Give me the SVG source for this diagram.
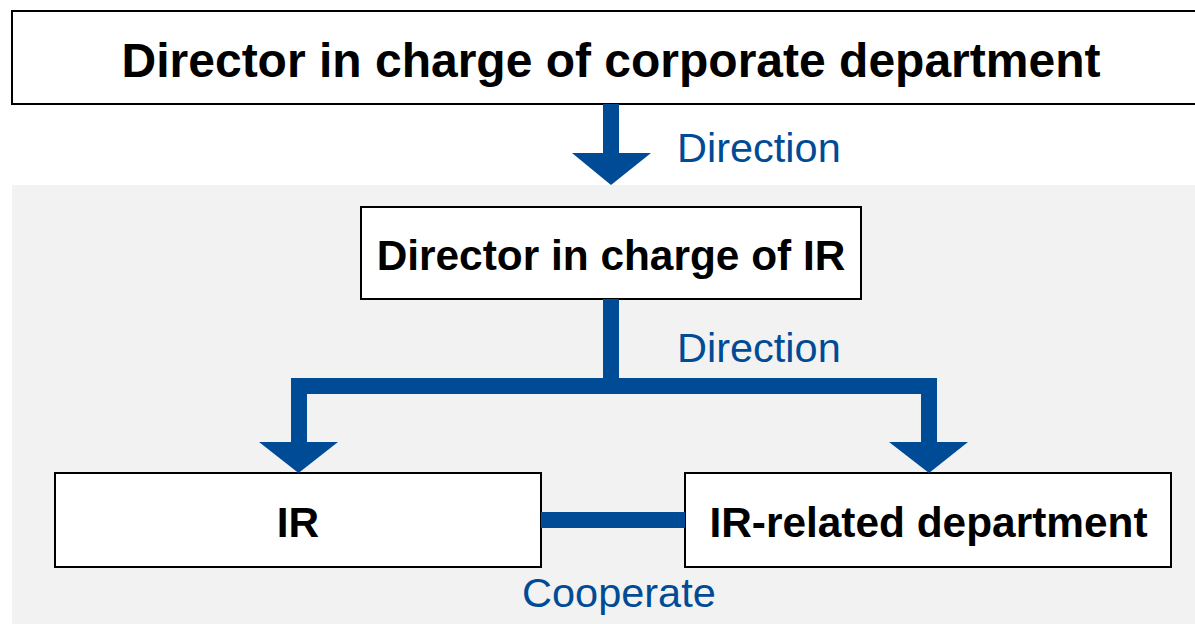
<svg xmlns="http://www.w3.org/2000/svg" width="1195" height="624" viewBox="0 0 1195 624">
<style>
.box{fill:#fff;stroke:#000;stroke-width:2}
.t{font-family:"Liberation Sans",Arial,sans-serif;font-weight:bold;fill:#000;text-anchor:middle}
.lbl{font-family:"Liberation Sans",Arial,sans-serif;fill:#004b96;font-size:41.5px}
.conn{fill:#004b96}
</style>
<rect x="12" y="185" width="1183" height="439" fill="#f2f2f2"/>
<g id="node-corporate">
<rect class="box" x="12" y="11" width="1195" height="93"/>
<text class="t" x="611" y="77" font-size="48">Director in charge of corporate department</text>
</g>
<g id="node-ir-director">
<rect class="box" x="361" y="207" width="500" height="92"/>
<text class="t" x="611" y="270" font-size="42.4">Director in charge of IR</text>
</g>
<g id="node-ir">
<rect class="box" x="55" y="473" width="486" height="94"/>
<text class="t" x="298" y="537" font-size="42.4">IR</text>
</g>
<g id="node-ir-related">
<rect class="box" x="685" y="473" width="486" height="94"/>
<text class="t" x="928.5" y="537" font-size="42.4">IR-related department</text>
</g>
<g id="connectors">
<polygon class="conn" points="603,104 619,104 619,153 651,153 611,185 572,153 603,153"/>
<path class="conn" d="M603,299 H619 V378 H937 V442 H968 L929,473 L889,442 H921 V394 H307 V442 H338 L298.5,473 L259,442 H291 V378 H603 Z"/>
<rect class="conn" x="541" y="512" width="144" height="16"/>
</g>
<text class="lbl" x="677" y="162">Direction</text>
<text class="lbl" x="677" y="362">Direction</text>
<text class="lbl" x="522" y="607">Cooperate</text>
</svg>
